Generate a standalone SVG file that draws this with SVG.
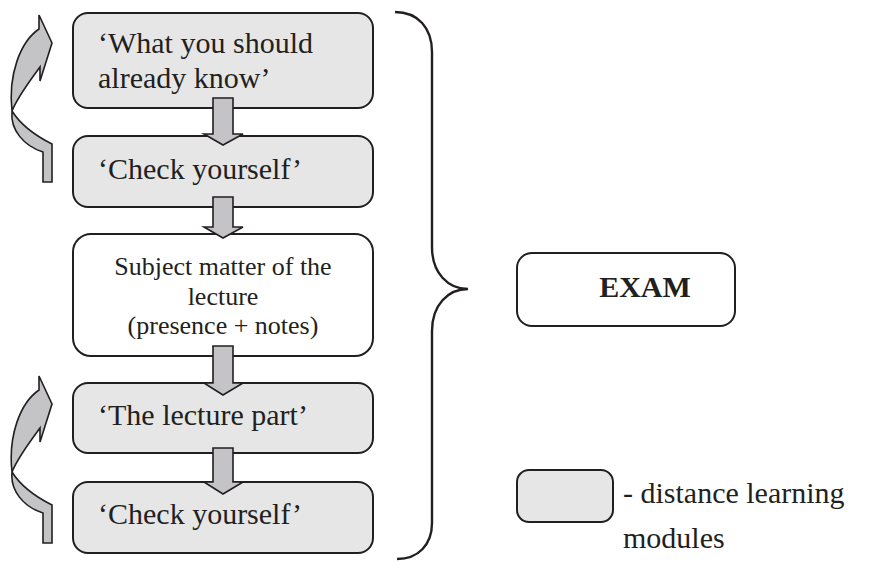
<svg xmlns="http://www.w3.org/2000/svg" width="871" height="562" viewBox="0 0 871 562">
<defs>
<style>
.box{fill:#e6e6e7;stroke:#231f20;stroke-width:2}
.wbox{fill:#ffffff;stroke:#231f20;stroke-width:2}
.arr{fill:#c4c4c6;stroke:#231f20;stroke-width:1.6;stroke-linejoin:miter}
.t{font-family:"Liberation Serif","Times New Roman",serif;fill:#231f20}
.big{font-size:30px}
.mid{font-size:26px}
.brace{fill:none;stroke:#231f20;stroke-width:2.4}
</style>
<path id="loop" d="M39,15 L52,43 L40,81 L40,67 C32,78 18,96 12,111 C22,127 38,137 52,144 L52,182 L43,182 L43,152 C24,146 10,130 12,111 C8,75 20,42 39,29 Z"/>
</defs>
<rect width="871" height="562" fill="#ffffff"/>

<g id="node-know">
<rect class="box" x="73" y="13" width="300" height="95" rx="15"/>
<text class="t big" x="98" y="53">‘What you should</text>
<text class="t big" x="98" y="88">already know’</text>
</g>
<g id="node-check1">
<rect class="box" x="73" y="136" width="300" height="71" rx="15"/>
<text class="t big" x="98" y="179">‘Check yourself’</text>
</g>
<g id="node-subject">
<rect class="wbox" x="73" y="234" width="300" height="122" rx="18"/>
<text class="t mid" x="223" y="275" text-anchor="middle">Subject matter of the</text>
<text class="t mid" x="223" y="305" text-anchor="middle">lecture</text>
<text class="t mid" x="223" y="334" text-anchor="middle">(presence + notes)</text>
</g>
<g id="node-lecture">
<rect class="box" x="73" y="383" width="300" height="70" rx="15"/>
<text class="t big" x="98" y="425">‘The lecture part’</text>
</g>
<g id="node-check2">
<rect class="box" x="73" y="482" width="300" height="71" rx="15"/>
<text class="t big" x="98" y="524">‘Check yourself’</text>
</g>

<g id="connectors">
<use href="#loop" class="arr"/>
<use href="#loop" class="arr" transform="translate(0,361)"/>
<path class="arr" d="M213,98 L233,98 L233,134 L243,134 L223,145 L204,134 L213,134 Z"/>
<path class="arr" d="M213,197 L233,197 L233,227 L243,227 L223,238 L204,227 L213,227 Z"/>
<path class="arr" d="M213,346 L233,346 L233,383 L243,383 L223,395 L204,383 L213,383 Z"/>
<path class="arr" d="M213,448 L233,448 L233,482 L243,482 L223,494 L204,482 L213,482 Z"/>
</g>

<g id="brace">
<path class="brace" d="M395,12 C418,12 432,28 432,52 L432,247 C432,273 448,289 468,289 C448,289 432,305 432,331 L432,523 C432,545 418,559 397,559"/>
</g>

<g id="node-exam">
<rect class="wbox" x="517" y="253" width="218" height="73" rx="15"/>
<text class="t big" x="645" y="297" text-anchor="middle" font-weight="bold">EXAM</text>
</g>

<g id="legend">
<rect class="box" x="517" y="470" width="96" height="52" rx="12"/>
<text class="t big" x="623" y="503">- distance learning</text>
<text class="t big" x="623" y="548">modules</text>
</g>
</svg>
